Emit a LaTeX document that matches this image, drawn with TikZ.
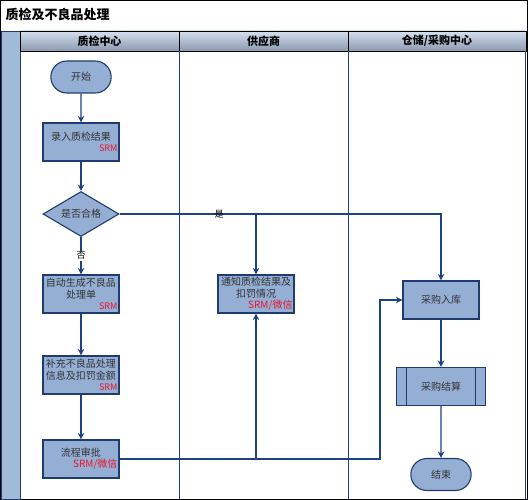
\documentclass[tikz,border=0pt]{standalone}
\usepackage{fontspec}
\setmainfont{Noto Sans CJK SC}
\usepackage{tikz}
\usetikzlibrary{arrows.meta}
\usetikzlibrary{shapes.geometric, shapes.misc, arrows, positioning}
\definecolor{boxfill}{RGB}{148,174,212}
\definecolor{boxline}{RGB}{30,60,112}
\definecolor{flowline}{RGB}{28,66,130}
\definecolor{stripfill}{RGB}{163,185,216}
\definecolor{headtop}{RGB}{214,224,238}
\definecolor{headbot}{RGB}{138,153,176}
\definecolor{srmred}{RGB}{235,20,45}
\newcommand{\sysname}[2][9]{\\[-1pt]\mbox{}\hfill{\fontsize{#1}{10}\selectfont\color{srmred}#2}}
\tikzstyle{terminal} = [rounded rectangle, minimum width=67pt, minimum height=32pt, text centered, draw=boxline, line width=1.1pt, fill=boxfill, text=black!80, font=\fontsize{10}{12}\selectfont]
\tikzstyle{process} = [rectangle, minimum width=76pt, minimum height=38pt, text width=73pt, inner sep=1.5pt, align=center, draw=boxline, line width=1.1pt, fill=boxfill, text=black!80, font=\fontsize{10}{12}\selectfont]
\tikzstyle{decision} = [diamond, aspect=1.7, minimum width=76pt, minimum height=45pt, inner sep=0pt, text centered, draw=boxline, line width=1.1pt, fill=boxfill, text=black!80, font=\fontsize{10}{12}\selectfont]
\tikzstyle{subprocess} = [process, minimum width=89pt, text width=86pt, path picture={\draw[boxline, line width=1pt] ([xshift=10pt]path picture bounding box.north west) -- ([xshift=10pt]path picture bounding box.south west) ([xshift=-10pt]path picture bounding box.north east) -- ([xshift=-10pt]path picture bounding box.south east);}]
\tikzstyle{lanehead} = [rectangle, minimum height=20pt, inner sep=0pt, draw=black, line width=0.8pt, top color=headtop, bottom color=headbot, font=\bfseries\fontsize{11}{13}\selectfont]
\tikzstyle{arrow} = [line width=1.1pt, draw=flowline, -{Stealth[length=6.5pt, width=6.5pt]}]

\begin{document}
\begin{tikzpicture}[x=1pt, y=-1pt, node distance=80pt]
        \useasboundingbox (0,0) rectangle (528,500);
        % frame and swimlanes
        \draw[black, line width=0.8pt] (0.4,0.4) rectangle (527.6,499.6);
        \node (title) [anchor=west, font=\bfseries\fontsize{13}{15}\selectfont] at (2,15) {质检及不良品处理};
        \draw[black, line width=0.8pt] (0,31) -- (528,31);
        \draw[boxline, line width=0.8pt, fill=stripfill] (1,31) rectangle (20,499);
        \node (laneqc) [lanehead, minimum width=159pt] at (99.5,41) {质检中心};
        \node (lanesup) [lanehead, minimum width=169pt] at (263.5,41) {供应商};
        \node (lanewh) [lanehead, minimum width=178pt] at (437,41) {仓储/采购中心};
        \draw[flowline, line width=1pt] (179,51) -- (179,499) (348,51) -- (348,499) (525.5,51) -- (525.5,499);

        \node (start) [terminal] at (81,77) {开始};
        \node (entry) [process, below of=start, node distance=65pt] {录入质检结果\sysname{SRM}};
        \node (check) [decision, below of=entry, node distance=72pt] {是否合格};
        \node (defect) [process, below of=check, node distance=80pt] {自动生成不良品\\处理单\sysname{SRM}};
        \node (supplement) [process, below of=defect, node distance=81pt] {补充不良品处理\\信息及扣罚金额\sysname{SRM}};
        \node (approve) [process, below of=supplement, node distance=84pt] {流程审批\sysname[10]{SRM/微信}};
        \node (notify) [process, right of=defect, node distance=175pt] {通知质检结果及\\扣罚情况\sysname[10]{SRM/微信}};
        \node (stockin) [process] at (441,300) {采购入库};
        \node (settle) [subprocess, below of=stockin, node distance=86.5pt] {采购结算};
        \node (finish) [terminal, below of=settle, node distance=88pt] {结束};
        \coordinate (bend) at (380,300);

        \draw [arrow] (start) -- (entry);
        \draw [arrow] (entry) -- (check);
        \draw [arrow] (check) -- node[fill=white, inner sep=1pt, font=\fontsize{9}{10}\selectfont] {否} (defect);
        \draw [arrow] (check.east) -- node[pos=0.31, inner sep=0pt, font=\fontsize{9}{10}\selectfont] {是} (check.east -| stockin.north) -- (stockin);
        \draw [arrow] (check.east -| notify.north) -- (notify);
        \draw [arrow] (defect) -- (supplement);
        \draw [arrow] (supplement) -- (approve);
        \draw [arrow] (approve.east) -- (approve.east -| bend) -- (bend) -- (stockin.west);
        \draw [arrow] (approve.east -| notify.south) -- (notify.south);
        \draw [arrow] (stockin) -- (settle);
        \draw [arrow] (settle) -- (finish);
    \end{tikzpicture}
\end{document}
